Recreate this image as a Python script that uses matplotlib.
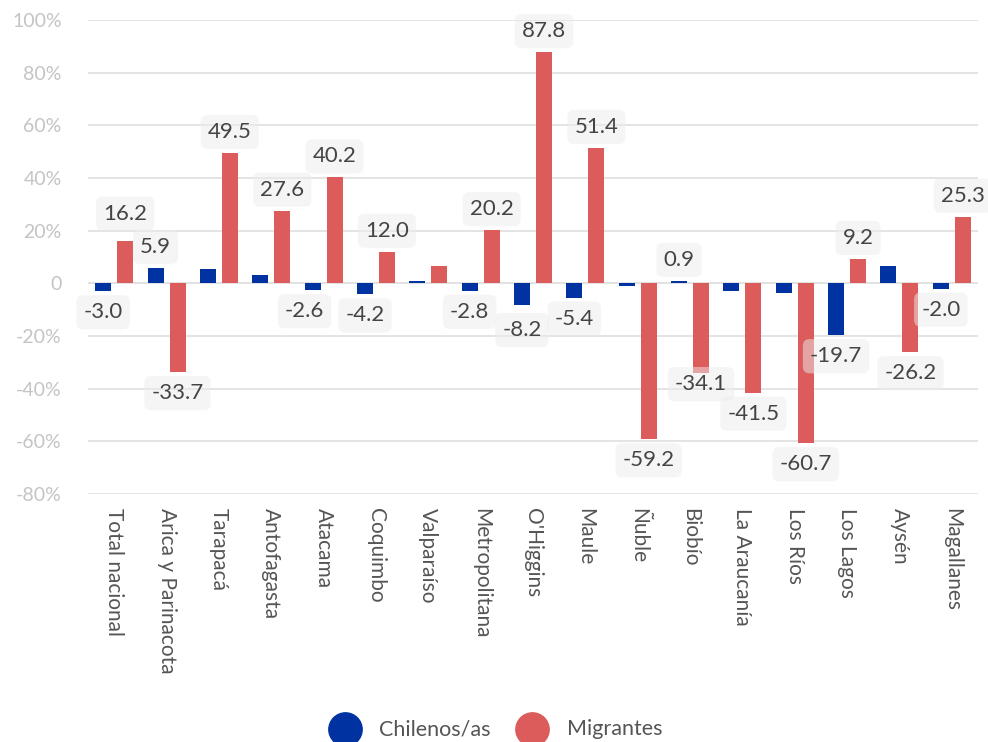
import matplotlib
matplotlib.use("Agg")
import matplotlib.pyplot as plt
from matplotlib.lines import Line2D
import numpy as np

plt.rcParams['font.family'] = ['Lato', 'DejaVu Sans']

regions = ["Total nacional", "Arica y Parinacota", "Tarapacá", "Antofagasta",
           "Atacama", "Coquimbo", "Valparaíso", "Metropolitana", "O'Higgins",
           "Maule", "Ñuble", "Biobío", "La Araucanía", "Los Ríos", "Los Lagos",
           "Aysén", "Magallanes"]
chilenos = [-3.0, 5.9, 5.6, 3.0, -2.6, -4.2, 1.0, -2.8, -8.2, -5.4,
            -0.9, 0.9, -3.1, -3.7, -19.7, 6.4, -2.0]
migrantes = [16.2, -33.7, 49.5, 27.6, 40.2, 12.0, 6.6, 20.2, 87.8, 51.4,
             -59.2, -34.1, -41.5, -60.7, 9.2, -26.2, 25.3]
# which data labels are displayed (others hidden to avoid clutter)
show_chilenos = [1, 1, 0, 0, 1, 1, 0, 1, 1, 1, 0, 1, 0, 0, 1, 0, 1]
show_migrantes = [1, 1, 1, 1, 1, 1, 0, 1, 1, 1, 1, 1, 1, 1, 1, 1, 1]
series_names = ["Chilenos/as", "Migrantes"]
yticks = [-80, -60, -40, -20, 0, 20, 40, 60, 80, 100]

BLUE = "#0033a1"
RED = "#dc5c5c"
PX = 0.72  # points per pixel at 100 dpi

fig = plt.figure(figsize=(9.88, 7.42), dpi=100)
ax = fig.add_axes([88 / 988, 1 - 494 / 742, 890 / 988, 474 / 742])

x = np.arange(len(regions))
w = 0.305
off = 0.21
ax.bar(x - off, chilenos, w, color=BLUE, zorder=2)
ax.bar(x + off, migrantes, w, color=RED, zorder=2)

ax.set_xlim(-0.5, len(regions) - 0.5)
ax.set_ylim(-80, 100)
ax.set_yticks(yticks)
ax.set_yticklabels([("0" if v == 0 else f"{v}%") for v in yticks])
ax.yaxis.grid(True, color="#e2e2e2", lw=1.3, zorder=0)
ax.set_axisbelow(True)
for s in ax.spines.values():
    s.set_visible(False)
ax.axhline(0, color="#e2e2e2", lw=1.3, zorder=1)
ax.tick_params(axis='y', length=0, pad=19, labelsize=14, labelcolor="#c4c4c4")
ax.set_xticks(x)
ax.set_xticklabels(regions, rotation=-90, ha='center', va='top')
ax.tick_params(axis='x', length=0, pad=10, labelsize=15, labelcolor="#555555")

# pixel nudges (dx, dy) for labels shifted to avoid collisions
nudges = {("m", 0): (0, 6), ("c", 4): (-8, 0), ("c", 8): (0, -4),
          ("m", 11): (0, 10)}

def put_label(xpos, val, key):
    gap = 11
    dx, dy = nudges.get(key, (0, 0))
    if val >= 0:
        oy, va = gap + dy, 'bottom'
    else:
        oy, va = -gap + dy, 'top'
    ax.annotate(f"{val:.1f}", (xpos, val), xytext=(dx * PX, oy * PX),
                textcoords='offset points', ha='center', va=va,
                fontsize=16, color="#444444", zorder=5,
                bbox=dict(boxstyle='round,pad=0.32,rounding_size=0.3',
                          fc=(0.93, 0.93, 0.93, 0.5), ec='none'))

for i in range(len(regions)):
    if show_chilenos[i]:
        put_label(x[i] - off, chilenos[i], ("c", i))
    if show_migrantes[i]:
        put_label(x[i] + off, migrantes[i], ("m", i))

# legend along the bottom edge
ly = 1 - 729 / 742
for cx, tx, col, name in [(345, 379, BLUE, series_names[0]),
                          (532, 567, RED, series_names[1])]:
    fig.add_artist(Line2D([cx / 988], [ly], marker='o', markersize=24,
                          color=col, transform=fig.transFigure, ls='none'))
    fig.text(tx / 988, ly, name, fontsize=15.5, color="#555555",
             va='center', ha='left')

fig.savefig("out.png", dpi=100)
